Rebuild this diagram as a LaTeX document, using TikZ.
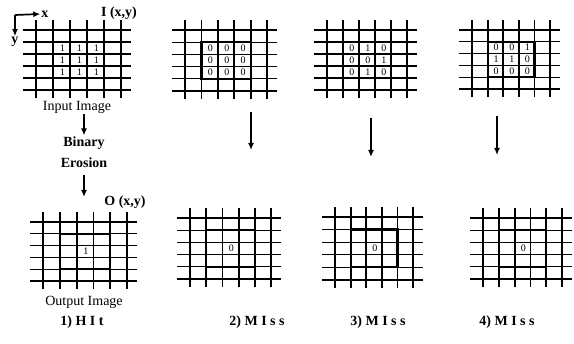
\documentclass[tikz,border=0pt]{standalone}
\usepackage{fontspec}
\setmainfont{Liberation Serif}
\usetikzlibrary{arrows.meta}

% #1 name, #2/#3 first line x/y, #4 cell width, #5 cell height, #6 list col/row/value
\newcommand\cellgrid[6]{%
  \begin{scope}[shift={(#2,#3)}]
    \coordinate (#1) at (0,0);
    \foreach \i in {0,...,5} {
      \draw[vline] (#4*\i,-10) -- (#4*\i,5*#5+8);
      \draw[hline] (-13,#5*\i) -- (5*#4+10,#5*\i);
    }
    \draw[boxline] (#4,#5) rectangle (4*#4,4*#5);
    \foreach \c/\r/\v in {#6}
      \node[cellnum] (#1-\r\c) at ({#4*(\c+0.55)},{#5*(\r+0.5)}) {\v};
  \end{scope}}

\begin{document}
\begin{tikzpicture}[x=1pt, y=-1pt,
  vline/.style={line width=1.8pt},
  hline/.style={line width=1.2pt},
  boxline/.style={line width=2.2pt},
  cellnum/.style={font=\fontsize{10}{11}\selectfont, inner sep=0pt},
  lbl/.style={font=\fontsize{14}{16}\selectfont, inner sep=1pt},
  blbl/.style={font=\fontsize{14}{16}\selectfont\bfseries, inner sep=1pt},
  arr/.style={-{Latex[length=7pt,width=6pt]}, line width=1.4pt}]
\useasboundingbox (0,0) rectangle (574,344);

% input and structuring elements
\cellgrid{in}{36}{30}{17}{12}{1/1/1,2/1/1,3/1/1,1/2/1,2/2/1,3/2/1,1/3/1,2/3/1,3/3/1}
\cellgrid{se2}{185}{30}{16.4}{12.2}{1/1/0,2/1/0,3/1/0,1/2/0,2/2/0,3/2/0,1/3/0,2/3/0,3/3/0}
\cellgrid{se3}{327}{30}{16}{12}{1/1/0,2/1/1,3/1/0,1/2/0,2/2/0,3/2/1,1/3/0,2/3/1,3/3/0}
\cellgrid{se4}{472}{30}{15.6}{11.8}{1/1/0,2/1/0,3/1/1,1/2/1,2/2/1,3/2/0,1/3/0,2/3/0,3/3/0}

% outputs
\cellgrid{out1}{43}{222}{16.8}{11.8}{2/2/1}
\cellgrid{out2}{190}{218}{16.2}{12.2}{2/2/0}
\cellgrid{out3}{335}{217}{15.6}{12.6}{2/2/0}
\cellgrid{out4}{483}{218}{15.8}{12.2}{2/2/0}

% axes
\coordinate (origin) at (15,15);
\node[blbl] (xlbl) at (45,14) {x};
\node[blbl] (ylbl) at (15,42) {y};
\draw[arr, line width=1.7pt] (origin) -- (xlbl.west);
\draw[arr, line width=1.7pt] (origin) -- (ylbl.north);

\node[blbl] (ilbl) at (119,13) {I (x,y)};
\node[blbl] (olbl) at (125,202) {O (x,y)};

% left column
\node[lbl] (inlbl) at (77,107) {Input Image};
\node[blbl] (binary) at (84,143) {Binary};
\node[blbl] (erosion) at (84,163) {Erosion};
\coordinate (outtop) at (84,197);
\draw[arr] (binary |- inlbl.south) -- (binary.north);
\draw[arr, shorten <=6pt] (erosion.south) -- (outtop);
\node[lbl] (outlbl) at (84,302) {Output Image};

% arrows of the other columns
\coordinate (a2) at (251,112); \coordinate (b2) at (251,150);
\coordinate (a3) at (371,118); \coordinate (b3) at (371,157);
\coordinate (a4) at (497,116); \coordinate (b4) at (497,155);
\draw[arr] (a2) -- (b2);
\draw[arr] (a3) -- (b3);
\draw[arr] (a4) -- (b4);

% case labels
\node[blbl] (c1) at (82,322) {1) H I t};
\node[blbl] (c2) at (257,322) {2) M I s s};
\node[blbl] (c3) at (378,322) {3) M I s s};
\node[blbl] (c4) at (507,322) {4) M I s s};
\end{tikzpicture}
\end{document}
